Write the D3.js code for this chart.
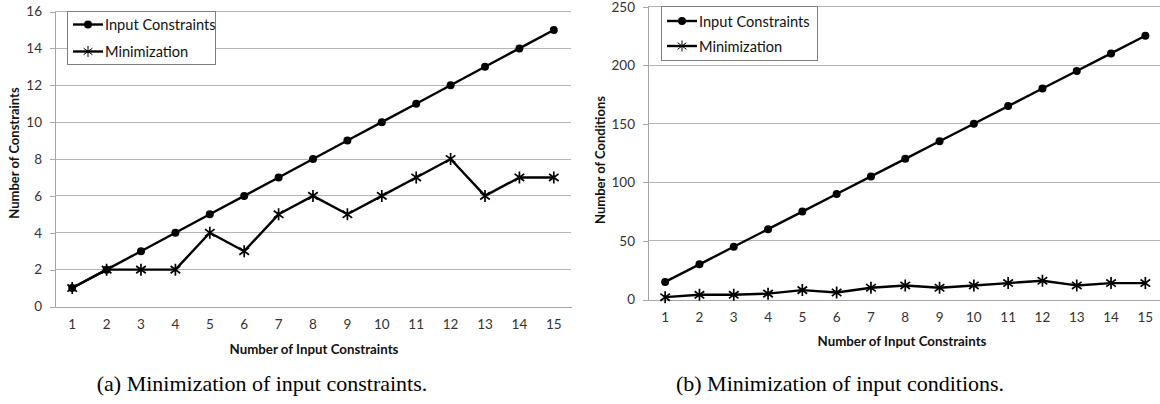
<!DOCTYPE html>
<html><head><meta charset="utf-8">
<script src="https://cdn.jsdelivr.net/npm/d3@7"></script>
<style>
html,body{margin:0;padding:0;background:#fff;}
svg{display:block;}
</style></head>
<body>
<svg id="chart" width="1160" height="404"></svg>
<script>
// ---- data ----
const categories = [1,2,3,4,5,6,7,8,9,10,11,12,13,14,15];
const seriesNames = ["Input Constraints", "Minimization"];
const constraintsInput = [1,2,3,4,5,6,7,8,9,10,11,12,13,14,15];
const constraintsMin   = [1,2,2,2,4,3,5,6,5,6,7,8,6,7,7];
const conditionsInput  = [15,30,45,60,75,90,105,120,135,150,165,180,195,210,225];
const conditionsMin    = [2,4,4,5,8,6,10,12,10,12,14,16,12,14,14];
const constraintsTicks = [0,2,4,6,8,10,12,14,16];
const conditionsTicks  = [0,50,100,150,200,250];
const xTitle = "Number of Input Constraints";
const yTitleA = "Number of Constraints";
const yTitleB = "Number of Conditions";
const captionA = "(a) Minimization of input constraints.";
const captionB = "(b) Minimization of input conditions.";

const svg = d3.select("#chart");
const FONT = "Lato, Carlito, 'Open Sans', sans-serif";
const GRID = "#b4b4b4";
const AXIS = "#a6a6a6";

function starPath(s){
  const h = s, d = s*0.8, e = s*0.6;
  return `M0,${-h}L0,${h}M${-d},${-e}L${d},${e}M${-d},${e}L${d},${-e}`;
}

function drawChart(cfg){
  const g = svg.append("g");
  const x = d3.scaleBand().domain(categories).range([cfg.x0, cfg.x1]);
  const y = d3.scaleLinear().domain([cfg.ticks[0], cfg.ticks[cfg.ticks.length-1]]).range([cfg.yb, cfg.yt]);
  const cx = d => x(d) + x.bandwidth()/2;

  // gridlines
  g.append("g").selectAll("line").data(cfg.ticks.slice(1)).join("line")
    .attr("x1", cfg.x0).attr("x2", Math.min(cfg.x1, 1160))
    .attr("y1", d=>y(d)).attr("y2", d=>y(d))
    .attr("stroke", GRID).attr("stroke-width", 1).attr("shape-rendering","crispEdges");

  // y axis
  const ya = g.append("g").attr("transform", `translate(${cfg.x0},0)`)
    .call(d3.axisLeft(y).tickValues(cfg.ticks).tickSize(5).tickPadding(8).tickFormat(d3.format("d")));
  ya.select(".domain").attr("stroke", AXIS).attr("shape-rendering","crispEdges");
  ya.selectAll(".tick line").attr("stroke", AXIS).attr("shape-rendering","crispEdges");
  ya.selectAll("text").attr("font-family", FONT).attr("font-size", 13.5).attr("fill", "#333")
    .attr("y", d => Math.max(0, 7.5 - y(d)));

  // x axis
  const xa = g.append("g").attr("transform", `translate(0,${cfg.yb})`)
    .call(d3.axisBottom(x).tickSize(0).tickPadding(13));
  xa.select(".domain").attr("stroke", AXIS).attr("shape-rendering","crispEdges");
  xa.selectAll("text").attr("font-family", FONT).attr("font-size", 13.5).attr("fill", "#333");

  // axis titles
  g.append("text").attr("x", cfg.xTitleX).attr("y", cfg.xTitleY)
    .attr("text-anchor","middle").attr("dominant-baseline","central")
    .attr("font-family", FONT).attr("font-weight","bold").attr("font-size", 13.3).attr("fill","#111")
    .text(xTitle);
  g.append("text").attr("transform", `translate(${cfg.yTitleX},${cfg.yTitleY}) rotate(-90)`)
    .attr("text-anchor","middle").attr("dominant-baseline","central")
    .attr("font-family", FONT).attr("font-weight","bold").attr("font-size", 13).attr("fill","#111")
    .text(cfg.yTitle);

  // lines
  const line = d3.line().x((d,i)=>cx(categories[i])).y(d=>y(d));
  const plot = g.append("g");
  [cfg.s1, cfg.s2].forEach(s=>{
    plot.append("path").datum(s).attr("d", line)
      .attr("fill","none").attr("stroke","#000").attr("stroke-width",2.4).attr("stroke-linejoin","round");
  });
  plot.append("g").selectAll("circle").data(cfg.s1).join("circle")
    .attr("cx",(d,i)=>cx(categories[i])).attr("cy",d=>y(d)).attr("r",4).attr("fill","#000");
  plot.append("g").selectAll("path").data(cfg.s2).join("path")
    .attr("transform",(d,i)=>`translate(${cx(categories[i])},${y(d)})`)
    .attr("d", starPath(6)).attr("stroke","#000").attr("stroke-width",1.7).attr("fill","none");

  // legend
  const L = cfg.legend;
  const lg = g.append("g");
  lg.append("rect").attr("x",L.x).attr("y",L.y).attr("width",L.w).attr("height",L.h)
    .attr("fill","#fff").attr("stroke","#7f7f7f").attr("stroke-width",1).attr("shape-rendering","crispEdges");
  seriesNames.forEach((name,i)=>{
    const ry = L.rows[i];
    lg.append("line").attr("x1",L.lx).attr("x2",L.lx+30).attr("y1",ry).attr("y2",ry)
      .attr("stroke","#000").attr("stroke-width",2.4);
    if(i===0){
      lg.append("circle").attr("cx",L.lx+15).attr("cy",ry).attr("r",4).attr("fill","#000");
    } else {
      lg.append("path").attr("transform",`translate(${L.lx+15},${ry})`).attr("d",starPath(5.5))
        .attr("stroke","#000").attr("stroke-width",1).attr("fill","none");
    }
    lg.append("text").attr("x",L.lx+32).attr("y",ry).attr("dominant-baseline","central")
      .attr("font-family",FONT).attr("font-size",14.6).attr("fill","#111").text(name);
  });

  // caption
  svg.append("text").attr("x", cfg.capX).attr("y", 383).attr("text-anchor","middle")
    .attr("dominant-baseline","central")
    .attr("font-family","'Liberation Serif','Times New Roman',serif").attr("font-size",22).attr("fill","#000")
    .text(cfg.caption);
}

drawChart({
  x0:55, x1:571, yb:306.5, yt:11.5, ticks:constraintsTicks,
  s1:constraintsInput, s2:constraintsMin, yTitle:yTitleA,
  xTitleX:314, xTitleY:349, yTitleX:14, yTitleY:153,
  legend:{x:67.5,y:11.5,w:148,h:53,lx:73,rows:[24.5,51.5]},
  capX:262, caption:captionA
});
drawChart({
  x0:648, x1:1162.5, yb:299.5, yt:6.5, ticks:conditionsTicks,
  s1:conditionsInput, s2:conditionsMin, yTitle:yTitleB,
  xTitleX:902, xTitleY:341, yTitleX:600, yTitleY:160,
  legend:{x:661.5,y:6.5,w:156,h:54,lx:667,rows:[21,46]},
  capX:840, caption:captionB
});
</script>
</body></html>
